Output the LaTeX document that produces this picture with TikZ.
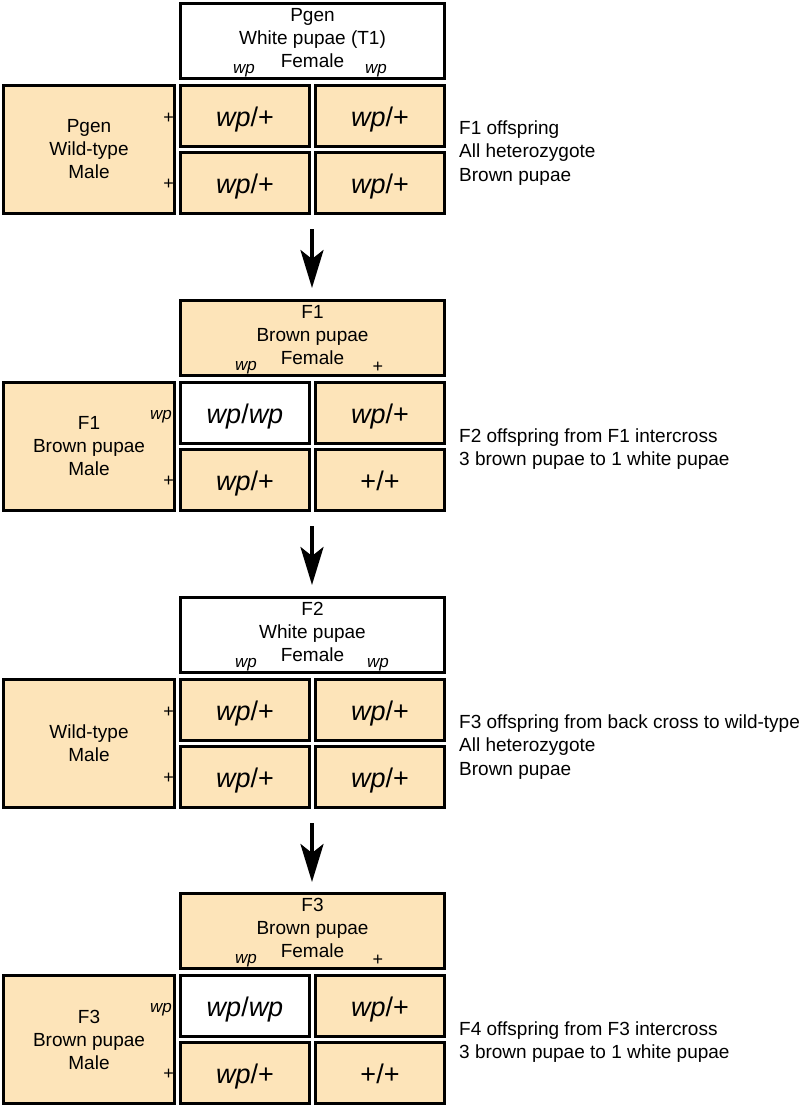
\documentclass[tikz,border=0pt]{standalone}
\usepackage{fontspec}
\setmainfont{Liberation Sans}
\usetikzlibrary{arrows.meta}
\definecolor{peach}{RGB}{253,228,185}
\tikzset{
  box/.style={draw=black, line width=3pt, rectangle, inner sep=0pt, align=center},
  pe/.style={box, fill=peach},
  wh/.style={box, fill=white},
  cellbox/.style={minimum width=129pt, minimum height=61pt, text height=23pt, text depth=3pt, font=\fontsize{27}{30}\selectfont},
  hdrbox/.style={minimum width=264pt, minimum height=75pt},
  leftbox/.style={minimum width=171pt, minimum height=128pt, font=\fontsize{19}{23}\selectfont},
  lbl/.style={font=\fontsize{19}{23}\selectfont, align=center, inner sep=0pt},
  allele/.style={font=\fontsize{17}{20}\selectfont\itshape, inner sep=0pt},
  plus/.style={font=\fontsize{18}{20}\selectfont, inner sep=0pt},
  note/.style={font=\fontsize{19}{23.5}\selectfont, align=left, anchor=west, inner sep=0pt},
  flow/.style={line width=4pt, -{Stealth[length=38pt,width=23pt,inset=9pt]}},
}
\newcommand{\wpx}{\textit{wp}}
\begin{document}
\begin{tikzpicture}[x=1pt,y=-1pt]
\useasboundingbox (0,0) rectangle (800,1109);

% ---------- Block 1 ----------
\begin{scope}
\node[wh,hdrbox] (h1) at (312.5,41) {};
\node[lbl] (ht1) at (312.5,38) {Pgen\\White pupae (T1)\\Female};
\node[allele] (ha1) at (244,71) {wp};
\node[allele] (hb1) at (376,71) {wp};
\node[pe,leftbox] (l1) at (89,149.5) {Pgen\\Wild-type\\Male};
\node[plus,anchor=east] (la1) at (174,118) {+};
\node[plus,anchor=east] (lb1) at (174,184) {+};
\node[pe,cellbox] (c11a) at (245,116) {\wpx/+};
\node[pe,cellbox] (c12a) at (380,116) {\wpx/+};
\node[pe,cellbox] (c21a) at (245,183) {\wpx/+};
\node[pe,cellbox] (c22a) at (380,183) {\wpx/+};
\node[note] (n1) at (459,153) {F1 offspring\\All heterozygote\\Brown pupae};
\end{scope}

% ---------- Block 2 ----------
\begin{scope}[shift={(0,297)}]
\node[pe,hdrbox] (h2) at (312.5,41) {};
\node[lbl] (ht2) at (312.5,38) {F1\\Brown pupae\\Female};
\node[allele] (ha2) at (246,71) {wp};
\node[plus] (hb2) at (378,70) {+};
\node[pe,leftbox] (l2) at (89,149.5) {F1\\Brown pupae\\Male};
\node[allele,anchor=east] (la2) at (172,120) {wp};
\node[plus,anchor=east] (lb2) at (174,184) {+};
\node[wh,cellbox] (c11b) at (245,116) {\wpx/\wpx};
\node[pe,cellbox] (c12b) at (380,116) {\wpx/+};
\node[pe,cellbox] (c21b) at (245,183) {\wpx/+};
\node[pe,cellbox] (c22b) at (380,183) {+/+};
\node[note] (n2) at (459,152) {F2 offspring from F1 intercross\\3 brown pupae to 1 white pupae};
\end{scope}

% ---------- Block 3 ----------
\begin{scope}[shift={(0,594)}]
\node[wh,hdrbox] (h3) at (312.5,41) {};
\node[lbl] (ht3) at (312.5,38) {F2\\White pupae\\Female};
\node[allele] (ha3) at (246,71) {wp};
\node[allele] (hb3) at (378,71) {wp};
\node[pe,leftbox] (l3) at (89,149.5) {Wild-type\\Male};
\node[plus,anchor=east] (la3) at (174,118) {+};
\node[plus,anchor=east] (lb3) at (174,184) {+};
\node[pe,cellbox] (c11c) at (245,116) {\wpx/+};
\node[pe,cellbox] (c12c) at (380,116) {\wpx/+};
\node[pe,cellbox] (c21c) at (245,183) {\wpx/+};
\node[pe,cellbox] (c22c) at (380,183) {\wpx/+};
\node[note] (n3) at (459,153) {F3 offspring from back cross to wild-type\\All heterozygote\\Brown pupae};
\end{scope}

% ---------- Block 4 ----------
\begin{scope}[shift={(0,890)}]
\node[pe,hdrbox] (h4) at (312.5,41) {};
\node[lbl] (ht4) at (312.5,38) {F3\\Brown pupae\\Female};
\node[allele] (ha4) at (246,71) {wp};
\node[plus] (hb4) at (378,70) {+};
\node[pe,leftbox] (l4) at (89,149.5) {F3\\Brown pupae\\Male};
\node[allele,anchor=east] (la4) at (172,120) {wp};
\node[plus,anchor=east] (lb4) at (174,184) {+};
\node[wh,cellbox] (c11d) at (245,116) {\wpx/\wpx};
\node[pe,cellbox] (c12d) at (380,116) {\wpx/+};
\node[pe,cellbox] (c21d) at (245,183) {\wpx/+};
\node[pe,cellbox] (c22d) at (380,183) {+/+};
\node[note] (n4) at (459,152) {F4 offspring from F3 intercross\\3 brown pupae to 1 white pupae};
\end{scope}

% ---------- Arrows ----------
\coordinate (s1) at (312,229);
\coordinate (e1) at (312,288);
\coordinate (s2) at (312,526);
\coordinate (e2) at (312,585);
\coordinate (s3) at (312,823);
\coordinate (e3) at (312,882);
\draw[flow] (s1) -- (e1);
\draw[flow] (s2) -- (e2);
\draw[flow] (s3) -- (e3);
\end{tikzpicture}
\end{document}
